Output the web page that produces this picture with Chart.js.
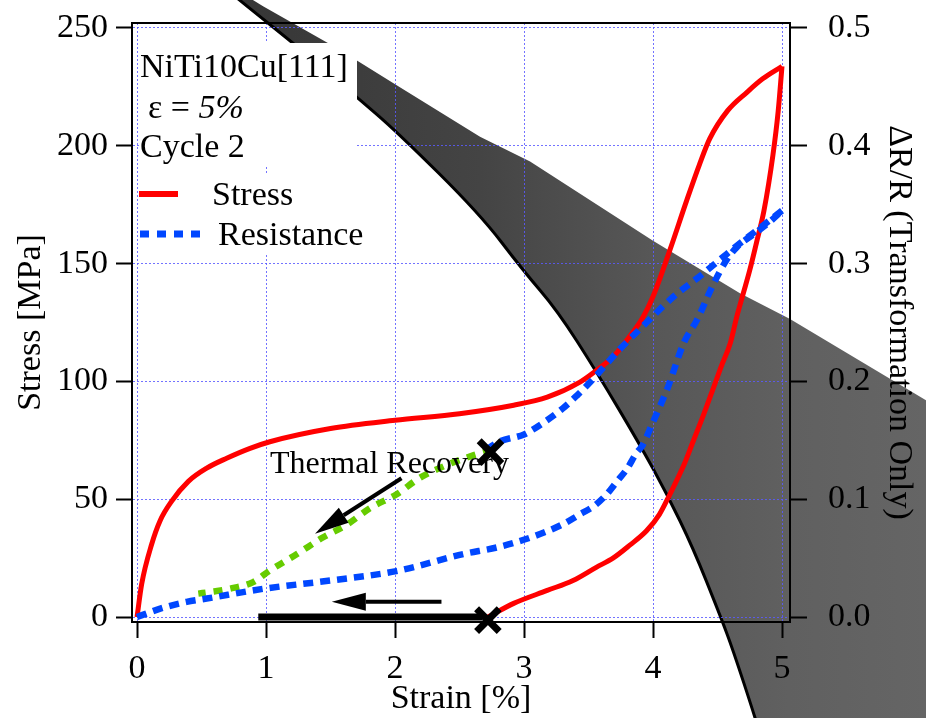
<!DOCTYPE html>
<html>
<head>
<meta charset="utf-8">
<script src="https://cdn.jsdelivr.net/npm/chart.js@4.4.1/dist/chart.umd.min.js"></script>
<style>
  body { margin: 0; background: #fff; }
  #wrap { width: 926px; height: 718px; }
</style>
</head>
<body>
<div id="wrap"><canvas id="myChart"></canvas></div>
<script>
// axis ticks
const strainTicks = [0, 1, 2, 3, 4, 5];
const stressTicks = [0, 50, 100, 150, 200, 250];
const resTicks = [0, 0.1, 0.2, 0.3, 0.4, 0.5];

// stress-strain loop (strain %, stress MPa)
const loadStrain = [0, 0.036, 0.114, 0.178, 0.269, 0.398, 0.54, 0.695, 0.876, 1.03, 1.5, 2.0, 2.5, 2.92, 3.18, 3.43, 3.54, 3.7, 3.82, 3.92, 4.0, 4.13, 4.26, 4.36, 4.44, 4.58, 4.73, 4.85, 5.0];
const loadStress = [0, 14, 31, 40.8, 49.2, 57.6, 63.2, 67.4, 71.6, 74.4, 80, 83.5, 86.3, 89.9, 93.3, 99.6, 103.8, 111, 119.2, 127, 136, 155.6, 176.6, 192, 203, 215, 222.8, 228.4, 233.7];
const unloadStrain = [5.0, 4.97, 4.93, 4.86, 4.80, 4.75, 4.70, 4.65, 4.60, 4.53, 4.47, 4.39, 4.31, 4.24, 4.18, 4.13, 4.05, 3.95, 3.82, 3.69, 3.56, 3.38, 3.18, 2.92, 2.72];
const unloadStress = [233.7, 214.4, 196.2, 172.4, 158.4, 147.2, 137.4, 127.6, 116.4, 106.5, 97.5, 85.6, 74.4, 64.6, 57.6, 52, 43.6, 36.6, 30.5, 25.0, 21.1, 15.5, 11.3, 5.8, 0];

// resistance (dR/R) on loading and unloading
const resLoadStrain = [0, 0.2, 0.385, 0.54, 0.98, 1.5, 2.01, 2.53, 2.79, 3.05, 3.30, 3.43, 3.54, 3.64, 3.72, 3.80, 3.87, 3.92, 4.0, 4.05, 4.11, 4.24, 4.34, 4.47, 4.57, 4.65, 4.78, 4.9, 5.0];
const resLoad = [0, 0.0078, 0.0129, 0.0157, 0.024, 0.031, 0.039, 0.0535, 0.0591, 0.0675, 0.0787, 0.087, 0.094, 0.104, 0.115, 0.126, 0.139, 0.146, 0.1655, 0.178, 0.1935, 0.233, 0.252, 0.283, 0.303, 0.314, 0.325, 0.335, 0.345];
const resUnloadStrain = [5.0, 4.86, 4.73, 4.57, 4.36, 4.16, 3.95, 3.74, 3.51, 3.41, 3.30, 3.11, 3.0, 2.81, 2.72];
const resUnload = [0.345, 0.333, 0.322, 0.308, 0.289, 0.272, 0.25, 0.227, 0.199, 0.188, 0.177, 0.162, 0.155, 0.149, 0.143];

// thermal recovery of resistance
const thermStrain = [2.75, 2.60, 2.40, 2.19, 2.01, 1.81, 1.63, 1.44, 1.24, 1.03, 0.90, 0.72, 0.57, 0.475];
const thermRes = [0.1418, 0.137, 0.129, 0.118, 0.104, 0.0927, 0.0787, 0.0675, 0.0535, 0.0395, 0.0297, 0.0241, 0.0213, 0.0199];

// recovered strain bar and X markers
const barStrain = [0.94, 2.68];
const barStress = [0, 0];
const markStrain = [2.72, 2.74];
const markStress = [-1.3, 70];

// arrows (strain, stress)
const arrowFromX = [2.36, 2.05];
const arrowFromY = [6.5, 58.9];
const arrowToX = [1.51, 1.38];
const arrowToY = [6.5, 35.4];

// shaded transformation band edges (strain, stress)
const bandLowerX = [0.76, 0.853, 1.264, 1.705, 2.016, 2.659, 2.992, 3.256, 3.566, 3.899, 4.109, 4.310, 4.519, 4.62, 4.79, 4.83];
const bandLowerY = [263.4, 259.2, 241.2, 220.6, 205.9, 171.0, 147.1, 130.3, 103.8, 73.1, 52.1, 29.4, 0.84, -13.9, -42.4, -50];
const bandUpperX = [0.853, 0.977, 1.558, 2.016, 2.659, 3.047, 4.0, 4.674, 5.062, 6.116, 6.25, 6.25];
const bandUpperY = [263.4, 259.2, 241.2, 225.6, 203.8, 193.3, 159.7, 137.4, 126.5, 92.0, 88, -50];

const serif = "'Liberation Serif', 'Times New Roman', serif";
const red = '#ff0000';
const blue = '#0047ff';
const green = '#66cc00';
const gridColor = 'rgba(90, 90, 255, 0.85)';

function pts(xs, ys) {
  return xs.map((v, i) => ({ x: v, y: ys[i] }));
}

function fixedTicks(values) {
  return function (scale) {
    scale.ticks = values.map(v => ({ value: v }));
  };
}

function noPad(s) {
  s.paddingTop = 0;
  s.paddingBottom = 0;
  s.paddingLeft = 0;
  s.paddingRight = 0;
}

// smooth path through pixel points
function smoothPath(ctx, p, start) {
  if (start) ctx.moveTo(p[0][0], p[0][1]); else ctx.lineTo(p[0][0], p[0][1]);
  for (let i = 1; i < p.length - 1; i++) {
    const mx = (p[i][0] + p[i + 1][0]) / 2, my = (p[i][1] + p[i + 1][1]) / 2;
    ctx.quadraticCurveTo(p[i][0], p[i][1], mx, my);
  }
  ctx.lineTo(p[p.length - 1][0], p[p.length - 1][1]);
}

function arrow(ctx, x1, y1, x2, y2) {
  const a = Math.atan2(y2 - y1, x2 - x1);
  const len = 34, half = 9;
  const bx = x2 - len * Math.cos(a), by = y2 - len * Math.sin(a);
  ctx.beginPath();
  ctx.moveTo(x1, y1);
  ctx.lineTo(bx, by);
  ctx.stroke();
  ctx.beginPath();
  ctx.moveTo(x2, y2);
  ctx.lineTo(bx + half * Math.sin(a), by - half * Math.cos(a));
  ctx.lineTo(bx - half * Math.sin(a), by + half * Math.cos(a));
  ctx.closePath();
  ctx.fill();
}

const overlay = {
  id: 'overlay',
  beforeDraw(chart) {
    const { ctx, scales: { x, y } } = chart;
    const lower = bandLowerX.map((v, i) => [x.getPixelForValue(v), y.getPixelForValue(bandLowerY[i])]);
    const upper = bandUpperX.map((v, i) => [x.getPixelForValue(v), y.getPixelForValue(bandUpperY[i])]).reverse();
    ctx.save();
    const g = ctx.createLinearGradient(240, 0, 926, 0);
    g.addColorStop(0, '#363636');
    g.addColorStop(0.35, '#444444');
    g.addColorStop(0.6, '#575757');
    g.addColorStop(0.8, '#606060');
    g.addColorStop(1, '#656565');
    ctx.beginPath();
    smoothPath(ctx, lower, true);
    upper.forEach(p => ctx.lineTo(p[0], p[1]));
    ctx.closePath();
    ctx.fillStyle = g;
    ctx.fill();
    ctx.beginPath();
    smoothPath(ctx, lower, true);
    ctx.lineWidth = 3;
    ctx.strokeStyle = '#000';
    ctx.stroke();
    ctx.restore();
  },
  beforeDatasetsDraw(chart) {
    const { ctx } = chart;
    ctx.save();
    ctx.fillStyle = '#fff';
    ctx.fillRect(139, 43, 218, 124);
    ctx.fillRect(139, 173, 232, 82);
    ctx.fillStyle = '#000';
    ctx.textBaseline = 'alphabetic';
    ctx.font = '34px ' + serif;
    ctx.fillText('NiTi10Cu[111]', 140, 77);
    ctx.fillText('Cycle 2', 140, 157);
    ctx.fillText('ε = ', 148, 118);
    const w = ctx.measureText('ε = ').width;
    ctx.font = 'italic 34px ' + serif;
    ctx.fillText('5%', 148 + w, 118);
    ctx.font = '34px ' + serif;
    ctx.fillText('Stress', 212, 205);
    ctx.fillText('Resistance', 218, 245);
    ctx.lineCap = 'butt';
    ctx.lineWidth = 6;
    ctx.strokeStyle = red;
    ctx.beginPath();
    ctx.moveTo(139, 194);
    ctx.lineTo(178, 194);
    ctx.stroke();
    ctx.lineWidth = 7;
    ctx.strokeStyle = blue;
    ctx.setLineDash([9, 8]);
    ctx.beginPath();
    ctx.moveTo(140, 234);
    ctx.lineTo(203, 234);
    ctx.stroke();
    ctx.restore();
  },
  afterDatasetsDraw(chart) {
    const { ctx, scales: { x, y } } = chart;
    ctx.save();
    ctx.fillStyle = '#000';
    ctx.strokeStyle = '#000';
    ctx.lineWidth = 4;
    arrowFromX.forEach((v, i) => {
      arrow(ctx, x.getPixelForValue(v), y.getPixelForValue(arrowFromY[i]),
        x.getPixelForValue(arrowToX[i]), y.getPixelForValue(arrowToY[i]));
    });
    ctx.font = '32px ' + serif;
    ctx.fillText('Thermal Recovery', x.getPixelForValue(1.03), y.getPixelForValue(61));
    ctx.restore();
  },
  afterDraw(chart) {
    const { ctx, chartArea: a } = chart;
    ctx.save();
    ctx.strokeStyle = '#000';
    ctx.lineWidth = 2;
    ctx.beginPath();
    ctx.moveTo(a.left - 1, a.top);
    ctx.lineTo(a.right + 1, a.top);
    ctx.stroke();
    ctx.restore();
  }
};

const lineBase = { showLine: true, pointRadius: 0, fill: false, borderCapStyle: 'butt',
  cubicInterpolationMode: 'monotone' };

const myChart = new Chart(document.getElementById('myChart'), {
  type: 'scatter',
  data: {
    datasets: [
      { label: 'marks', data: pts(markStrain, markStress), yAxisID: 'y', showLine: false,
        pointStyle: 'crossRot', pointRadius: 16, borderWidth: 7, borderColor: '#000', clip: false, order: 0 },
      { ...lineBase, label: 'recovered', data: pts(barStrain, barStress), yAxisID: 'y',
        borderColor: '#000', borderWidth: 7, order: 1 },
      { ...lineBase, label: 'Resistance', data: pts(resLoadStrain, resLoad), yAxisID: 'y2',
        borderColor: blue, borderWidth: 6.5, borderDash: [10, 7], order: 2 },
      { ...lineBase, label: 'Resistance unload', data: pts(resUnloadStrain, resUnload), yAxisID: 'y2',
        borderColor: blue, borderWidth: 6.5, borderDash: [10, 7], order: 2 },
      { ...lineBase, label: 'Thermal', data: pts(thermStrain, thermRes), yAxisID: 'y2',
        borderColor: green, borderWidth: 6.5, borderDash: [9, 8], order: 3 },
      { ...lineBase, label: 'Stress', data: pts(loadStrain, loadStress), yAxisID: 'y',
        borderColor: red, borderWidth: 5, order: 4 },
      { ...lineBase, label: 'Stress unload', data: pts(unloadStrain, unloadStress), yAxisID: 'y',
        borderColor: red, borderWidth: 5, order: 4 }
    ]
  },
  options: {
    responsive: true,
    maintainAspectRatio: false,
    animation: false,
    events: [],
    layout: { padding: { top: 17, left: 0, right: 0, bottom: 0 } },
    plugins: { legend: { display: false }, tooltip: { enabled: false } },
    scales: {
      x: {
        type: 'linear', position: 'bottom', min: -0.039, max: 5.062,
        afterBuildTicks: fixedTicks(strainTicks),
        afterFit: s => { s.height = 96; noPad(s); },
        grid: { color: gridColor, lineWidth: 1, tickColor: '#000', tickWidth: 2, tickLength: 16 },
        border: { display: true, color: '#000', width: 2, dash: [2, 2] },
        ticks: { color: '#000', font: { family: serif, size: 34 }, padding: 11, maxRotation: 0, autoSkip: false },
        title: { display: true, text: 'Strain [%]', color: '#000',
          font: { family: serif, size: 34, lineHeight: 1 }, padding: { top: 0, bottom: 1.5 } }
      },
      y: {
        type: 'linear', position: 'left', min: -2.1, max: 252.1,
        afterBuildTicks: fixedTicks(stressTicks),
        afterFit: s => { s.width = 132; noPad(s); },
        grid: { color: gridColor, lineWidth: 1, tickColor: '#000', tickWidth: 2, tickLength: 16 },
        border: { display: true, color: '#000', width: 2, dash: [2, 2] },
        ticks: { color: '#000', font: { family: serif, size: 34 }, padding: 8, autoSkip: false },
        title: { display: true, text: 'Stress [MPa]', color: '#000',
          font: { family: serif, size: 34 }, padding: { top: 10.5, bottom: 0 } }
      },
      y2: {
        type: 'linear', position: 'right', min: -0.0042, max: 0.5042,
        afterBuildTicks: fixedTicks(resTicks),
        afterFit: s => { s.width = 136; noPad(s); },
        grid: { drawOnChartArea: false, tickColor: '#000', tickWidth: 2, tickLength: 17 },
        border: { display: true, color: '#000', width: 2 },
        ticks: { color: '#000', font: { family: serif, size: 34 }, padding: 21, autoSkip: false,
          callback: v => v.toFixed(1) },
        title: { display: true, text: 'ΔR/R (Transformation Only)', color: '#000',
          font: { family: serif, size: 34 }, padding: { top: 6.5, bottom: 0 } }
      }
    }
  },
  plugins: [overlay]
});
</script>
</body>
</html>
